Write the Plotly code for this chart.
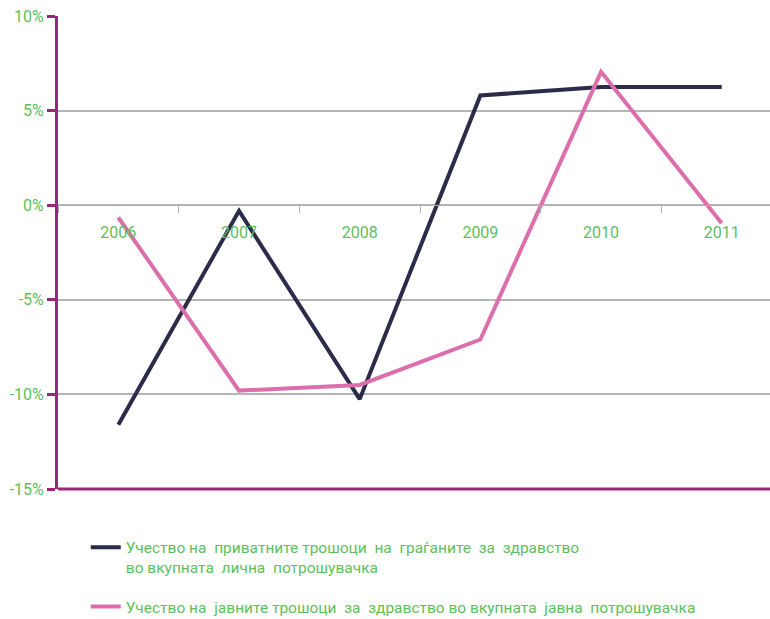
import plotly.graph_objects as go

years = ["2006", "2007", "2008", "2009", "2010", "2011"]
private_share = [-11.6, -0.3, -10.25, 5.8, 6.25, 6.25]
public_share = [-0.65, -9.8, -9.5, -7.1, 7.05, -0.95]
series_names = [
    "Учество на  приватните трошоци  на  граѓаните  за  здравство<br>во вкупната  лична  потрошувачка",
    "Учество на  јавните трошоци  за  здравство во вкупната  јавна  потрошувачка",
]
y_ticks = [10, 5, 0, -5, -10, -15]
y_labels = ["10%", "5%", "0%", "-5%", "-10%", "-15%"]

GREEN = "#5cbf5c"
PURPLE = "#9c2678"
DARK = "#2c2b4a"
PINK = "#dc6fab"
FONT = "Roboto"

fig = go.Figure()
fig.add_trace(go.Scatter(x=years, y=private_share, mode="lines", name=series_names[0],
                         line=dict(color=DARK, width=4), legendgroup="a"))
fig.add_trace(go.Scatter(x=years, y=public_share, mode="lines", name=series_names[1],
                         line=dict(color=PINK, width=4), legendgroup="b"))

fig.update_layout(
    width=770, height=619,
    margin=dict(l=58, r=0, t=16, b=130, autoexpand=False),
    paper_bgcolor="white", plot_bgcolor="white",
    font=dict(family=FONT, size=16, color=GREEN),
    showlegend=True,
    legend=dict(x=0.039, y=-0.088, xanchor="left", yanchor="top",
                orientation="v", tracegroupgap=16, valign="top",
                font=dict(family=FONT, size=15.5, color=GREEN)),
    xaxis=dict(type="category", range=[-0.5, 5.4], anchor="free", position=0.6,
               showline=True, linecolor="#b0b0b0", linewidth=1,
               ticks="outside", tickson="boundaries", ticklen=7, tickcolor="#b0b0b0",
               ticklabelstandoff=13,
               showgrid=False, zeroline=False,
               tickfont=dict(family=FONT, size=16, color=GREEN)),
    yaxis=dict(range=[-15, 10], tickvals=y_ticks, ticktext=y_labels,
               showline=True, linecolor=PURPLE, linewidth=3,
               ticks="outside", ticklen=8, tickcolor=PURPLE, tickwidth=3,
               showgrid=True, gridcolor="#b5b5b5", gridwidth=1.5,
               zeroline=False,
               tickfont=dict(family=FONT, size=16, color=GREEN)),
    shapes=[dict(type="line", xref="paper", yref="paper", x0=0, x1=1, y0=0, y1=0,
                 line=dict(color=PURPLE, width=3), layer="above")],
)

fig.write_html("out.html")
